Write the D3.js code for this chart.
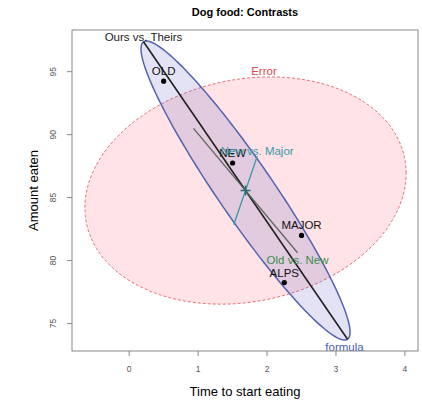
<!DOCTYPE html>
<html>
<head>
<meta charset="utf-8">
<script src="https://cdn.jsdelivr.net/npm/d3@7"></script>
<style>
  body { margin: 0; background: #fff; }
  svg { font-family: Arial, "Liberation Sans", sans-serif; }
</style>
</head>
<body>
<svg></svg>
<script>
// ---------------------------- data --------------------------------------

let groups = ['OLD', 'NEW', 'MAJOR', 'ALPS']
let startTime = [0.5, 1.5, 2.5, 2.25]
let amountEaten = [94.25, 87.75, 82.0, 78.25]

let grandMean = [1.6875, 85.5625]

// ellipse shapes (xx, yy, xy) in data units
let hShape = [2.30, 140.96, -17.06]
let eShape = [5.43, 81.4, 3.2]

// contrast half-vectors from the grand mean
let contrastNames = ['Ours vs. Theirs', 'Old vs. New', 'New vs. Major']
let contrastDx = [-1.48, -0.755, 0.170]
let contrastDy = [11.81, 4.94, 2.72]

let xTicks = [0, 1, 2, 3, 4]
let yTicks = [75, 80, 85, 90, 95]

// ---------------------------- setup --------------------------------------

let width = 422
let height = 401
let padLeft = 72, padRight = 418, padTop = 30, padBottom = 351

let svg = d3.select('svg').attr('width', width).attr('height', height)

let xScale = d3.scaleLinear().domain([-0.83, 4.19]).range([padLeft, padRight])
let yScale = d3.scaleLinear().domain([72.82, 98.31]).range([padBottom, padTop])

// points of an ellipse from the cholesky factor of its shape matrix
let ellipsePoints = (shape) => {
  let l11 = Math.sqrt(shape[0])
  let l21 = shape[2] / l11
  let l22 = Math.sqrt(shape[1] - l21 * l21)
  return d3.range(0, 361, 2).map((deg) => {
    let t = deg * Math.PI / 180
    return [grandMean[0] + l11 * Math.cos(t),
            grandMean[1] + l21 * Math.cos(t) + l22 * Math.sin(t)]
  })
}

let line = d3.line().x(d => xScale(d[0])).y(d => yScale(d[1]))

let clip = svg.append('clipPath').attr('id', 'plotclip')
clip.append('rect').attr('x', padLeft).attr('y', padTop)
    .attr('width', padRight - padLeft).attr('height', padBottom - padTop)

let plot = svg.append('g').attr('clip-path', 'url(#plotclip)')

// error ellipse
plot.append('path')
    .attr('d', line(ellipsePoints(eShape)) + 'Z')
    .attr('fill', 'rgba(255,40,60,0.13)')
    .attr('stroke', '#e8707a')
    .attr('stroke-width', 1)
    .attr('stroke-dasharray', '3,2')

// hypothesis ellipse
plot.append('path')
    .attr('d', line(ellipsePoints(hShape)) + 'Z')
    .attr('fill', 'rgba(70,70,190,0.15)')
    .attr('stroke', '#5262b0')
    .attr('stroke-width', 1.5)

// contrast lines
let lineColors = ['#222', '#5d6660', '#3a9aa6']
let labelColors = ['#222', '#3d8c50', '#3a9aa6']

contrastNames.forEach((name, i) => {
  let a = [grandMean[0] + contrastDx[i], grandMean[1] + contrastDy[i]]
  let b = [grandMean[0] - contrastDx[i], grandMean[1] - contrastDy[i]]
  plot.append('path')
      .attr('d', line([a, b]))
      .attr('stroke', lineColors[i])
      .attr('stroke-width', i == 0 ? 1.6 : 1.3)
      .attr('fill', 'none')
})

// grand mean marker
let gx = xScale(grandMean[0]), gy = yScale(grandMean[1])
plot.append('path')
    .attr('d', `M${gx - 5},${gy}H${gx + 5}M${gx},${gy - 5}V${gy + 5}`)
    .attr('stroke', '#2a6e72')
    .attr('stroke-width', 1.5)

// group means
plot.selectAll('circle')
    .data(groups)
    .enter()
    .append('circle')
    .attr('cx', (d, i) => xScale(startTime[i]))
    .attr('cy', (d, i) => yScale(amountEaten[i]))
    .attr('r', 2.6)
    .attr('fill', '#000')

svg.selectAll('.glabel')
    .data(groups)
    .enter()
    .append('text')
    .attr('class', 'glabel')
    .attr('x', (d, i) => xScale(startTime[i]))
    .attr('y', (d, i) => yScale(amountEaten[i]) - 6)
    .attr('text-anchor', 'middle')
    .attr('font-size', 11.5)
    .attr('fill', '#111')
    .text(d => d)

// contrast labels: first and last at the + end, middle one at the - end
let labelEnd = [1, -1, 1]
let labelShift = [-1, 11, -1]
contrastNames.forEach((name, i) => {
  svg.append('text')
     .attr('x', xScale(grandMean[0] + labelEnd[i] * contrastDx[i]))
     .attr('y', yScale(grandMean[1] + labelEnd[i] * contrastDy[i]) + labelShift[i])
     .attr('text-anchor', 'middle')
     .attr('font-size', 11.5)
     .attr('fill', labelColors[i])
     .text(name)
})

// ellipse labels
let eTopX = grandMean[0] + eShape[2] / Math.sqrt(eShape[1])
let eTopY = grandMean[1] + Math.sqrt(eShape[1])
svg.append('text')
   .attr('x', xScale(eTopX) - 6)
   .attr('y', yScale(eTopY) - 2)
   .attr('text-anchor', 'middle')
   .attr('font-size', 11.5)
   .attr('fill', '#e0454f')
   .text('Error')

svg.append('text')
   .attr('x', xScale(grandMean[0] - contrastDx[0]) - 3)
   .attr('y', yScale(grandMean[1] - contrastDy[0]) + 12)
   .attr('text-anchor', 'middle')
   .attr('font-size', 11.5)
   .attr('fill', '#4a5ab4')
   .text('formula')

// ---------------------------- axes --------------------------------------

svg.append('rect')
   .attr('x', padLeft).attr('y', padTop)
   .attr('width', padRight - padLeft).attr('height', padBottom - padTop)
   .attr('fill', 'none')
   .attr('stroke', '#888')

let xAxis = svg.append('g').attr('transform', 'translate(0,' + padBottom + ')')
xAxis.selectAll('line').data(xTicks).enter().append('line')
     .attr('x1', d => xScale(d)).attr('x2', d => xScale(d))
     .attr('y1', 0).attr('y2', 5)
     .attr('stroke', '#888')
xAxis.selectAll('text').data(xTicks).enter().append('text')
     .attr('x', d => xScale(d)).attr('y', 21)
     .attr('text-anchor', 'middle')
     .attr('font-size', 8.5)
     .attr('fill', '#555')
     .text(d => d)

let yAxis = svg.append('g').attr('transform', 'translate(' + padLeft + ',0)')
yAxis.selectAll('line').data(yTicks).enter().append('line')
     .attr('x1', 0).attr('x2', -5)
     .attr('y1', d => yScale(d)).attr('y2', d => yScale(d))
     .attr('stroke', '#888')
yAxis.selectAll('text').data(yTicks).enter().append('text')
     .attr('transform', d => 'translate(-16,' + yScale(d) + ') rotate(-90)')
     .attr('text-anchor', 'middle')
     .attr('font-size', 8.5)
     .attr('fill', '#555')
     .text(d => d)

// titles
svg.append('text')
   .attr('x', 245).attr('y', 16)
   .attr('text-anchor', 'middle')
   .attr('font-size', 11)
   .attr('font-weight', 'bold')
   .text('Dog food: Contrasts')

svg.append('text')
   .attr('x', (padLeft + padRight) / 2).attr('y', 396)
   .attr('text-anchor', 'middle')
   .attr('font-size', 13)
   .text('Time to start eating')

svg.append('text')
   .attr('transform', 'translate(38,' + (padTop + padBottom) / 2 + ') rotate(-90)')
   .attr('text-anchor', 'middle')
   .attr('font-size', 13)
   .text('Amount eaten')
</script>
</body>
</html>
